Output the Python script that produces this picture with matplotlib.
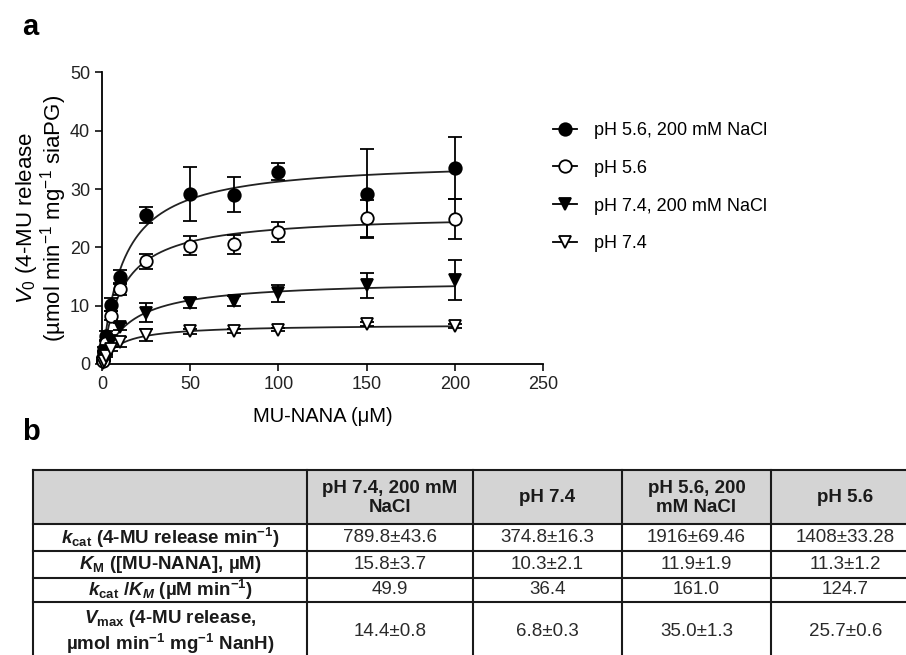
import numpy as np
import matplotlib
matplotlib.use("Agg")
from matplotlib import pyplot as plt
from matplotlib.lines import Line2D

plt.rcParams['font.family'] = ['Liberation Sans', 'DejaVu Sans']
plt.rcParams['mathtext.fontset'] = 'custom'
plt.rcParams['mathtext.rm'] = 'Liberation Sans'
plt.rcParams['mathtext.it'] = 'Liberation Sans:italic'
plt.rcParams['mathtext.bf'] = 'Liberation Sans:bold'
plt.rcParams['mathtext.bfit'] = 'Liberation Sans:bold:italic'

# panel a data
conc = [0.5, 1, 2.5, 5, 10, 25, 50, 75, 100, 150, 200]
names = ['pH 5.6, 200 mM NaCl', 'pH 5.6', 'pH 7.4, 200 mM NaCl', 'pH 7.4']
v_56_nacl = [0.7, 2.5, 4.8, 10.2, 15.0, 25.5, 29.2, 29.0, 33.0, 29.2, 33.6]
e_56_nacl = [0.3, 0.5, 0.8, 1.1, 1.1, 1.4, 4.6, 3.0, 1.5, 7.6, 5.3]
v_56 = [0.5, 1.8, 3.6, 8.3, 12.8, 17.6, 20.3, 20.5, 22.6, 25.0, 24.9]
e_56 = [0.2, 0.4, 0.6, 0.8, 0.9, 1.3, 1.6, 1.6, 1.7, 3.2, 3.4]
v_74_nacl = [0.3, 0.9, 2.2, 4.0, 6.4, 8.8, 10.5, 10.8, 12.1, 13.5, 14.4]
e_74_nacl = [0.1, 0.2, 0.4, 0.5, 0.6, 1.6, 0.9, 0.9, 1.5, 2.1, 3.4]
v_74 = [0.2, 0.6, 1.4, 2.6, 3.8, 5.0, 5.6, 5.7, 5.9, 6.9, 6.5]
e_74 = [0.1, 0.1, 0.2, 0.3, 0.9, 1.0, 0.4, 0.3, 0.3, 0.3, 0.3]

# panel b table (column order as in table)
col_headers = ['pH 7.4, 200 mM\nNaCl', 'pH 7.4', 'pH 5.6, 200\nmM NaCl', 'pH 5.6']
row_labels = [r'$\mathbfit{k}_{\mathbf{cat}}$ (4-MU release min$^{\mathbf{-1}}$)',
              r'$\mathbfit{K}_{\mathbf{M}}$ ([MU-NANA], µM)',
              r'$\mathbfit{k}_{\mathbf{cat}}$ /$\mathbfit{K}_{\mathbfit{M}}$ (µM min$^{\mathbf{-1}}$)',
              r'$\mathbfit{V}_{\mathbf{max}}$ (4-MU release,' + '\n' +
              r'µmol min$^{\mathbf{-1}}$ mg$^{\mathbf{-1}}$ NanH)']
kcat = ['789.8±43.6', '374.8±16.3', '1916±69.46', '1408±33.28']
km = [15.8, 10.3, 11.9, 11.3]
km_err = [3.7, 2.1, 1.9, 1.2]
kcat_km = ['49.9', '36.4', '161.0', '124.7']
vmax = [14.4, 6.8, 35.0, 25.7]
vmax_err = [0.8, 0.3, 1.3, 0.6]

fig = plt.figure(figsize=(9.06, 6.55), dpi=100)

# overlay in pixel coords for the table and panel letters
ov = fig.add_axes([0, 0, 1, 1])
ov.set_xlim(0, 906)
ov.set_ylim(655, 0)
ov.axis('off')
ov.patch.set_visible(False)

ov.text(22, 35, 'a', fontsize=21, fontweight='bold', va='baseline')
ov.text(22, 440, 'b', fontsize=21, fontweight='bold', va='baseline')

# --- panel a
ax = fig.add_axes([102 / 906, 1 - 364 / 655, 441 / 906, 291.5 / 655])
series = [(v_56_nacl, e_56_nacl, 'o', 'black'),
          (v_56, e_56, 'o', 'white'),
          (v_74_nacl, e_74_nacl, 'v', 'black'),
          (v_74, e_74, 'v', 'white')]
fit_idx = [2, 3, 0, 1]  # table column for each plotted series
xs = np.linspace(0, 200, 400)
handles = []
for (v, e, m, fc), i, nm in zip(series, fit_idx, names):
    ax.plot(xs, vmax[i] * xs / (km[i] + xs), color='#222222', lw=1.3, zorder=2)
    ax.errorbar(conc, v, yerr=e, fmt=m, ms=9, mfc=fc, mec='black', mew=1.3,
                ecolor='black', elinewidth=1.3, capsize=5, capthick=1.3,
                zorder=3, clip_on=False)
    handles.append(Line2D([], [], color='black', lw=1.3, marker=m, ms=9,
                          mfc=fc, mec='black', mew=1.3))

ax.set_xlim(0, 250)
ax.set_ylim(0, 50)
ax.set_xticks([0, 50, 100, 150, 200, 250])
ax.set_yticks([0, 10, 20, 30, 40, 50])
for s in ['top', 'right']:
    ax.spines[s].set_visible(False)
for s in ['left', 'bottom']:
    ax.spines[s].set_linewidth(1.3)
ax.tick_params(labelsize=13, length=5, width=1.3, colors='#222222')
ax.set_xlabel('MU-NANA (μM)', fontsize=14.5, labelpad=10)
ax.set_ylabel(r'$\mathit{V_0}$ (4-MU release' + '\n' +
              r'(µmol min$^{-1}$ mg$^{-1}$ siaPG)', fontsize=16, labelpad=1,
              linespacing=0.95)

fig.legend(handles, names, loc='upper left', bbox_to_anchor=(553 / 906, 1 - 122 / 655),
           frameon=False, fontsize=13, handlelength=1.35, handletextpad=0.9,
           labelspacing=1.15, borderpad=0, borderaxespad=0)

# --- panel b table
xl = [33, 307, 473, 622, 771, 920]
yl = [470, 524, 551, 578, 602, 662]
ov.fill_between([xl[0], 906], yl[0], yl[1], color='#d4d4d4', lw=0)
for y in yl:
    ov.plot([xl[0], 906], [y, y], color='#1a1a1a', lw=1.5)
for x in xl:
    ov.plot([x, x], [yl[0], yl[-1]], color='#1a1a1a', lw=1.5)

rows = [kcat,
        [f'{a}±{b}' for a, b in zip(km, km_err)],
        kcat_km,
        [f'{a}±{b}' for a, b in zip(vmax, vmax_err)]]
cx = [(xl[j] + xl[j + 1]) / 2 for j in range(len(xl) - 1)]
for j, h in enumerate(col_headers):
    ov.text(cx[j + 1], (yl[0] + yl[1]) / 2 + 1, h, fontsize=13.5, fontweight='bold',
            ha='center', va='center', color='#1a1a1a', linespacing=1.15)
for r, (lab, vals) in enumerate(zip(row_labels, rows)):
    yc = (yl[r + 1] + yl[r + 2]) / 2
    ov.text(cx[0], yc, lab, fontsize=13.5, fontweight='bold', ha='center',
            va='center', color='#1a1a1a', linespacing=1.2)
    for j, t in enumerate(vals):
        ov.text(cx[j + 1], yc, t, fontsize=13.5, ha='center', va='center',
                color='#2a2a2a')

fig.savefig('out.png', dpi=100)
